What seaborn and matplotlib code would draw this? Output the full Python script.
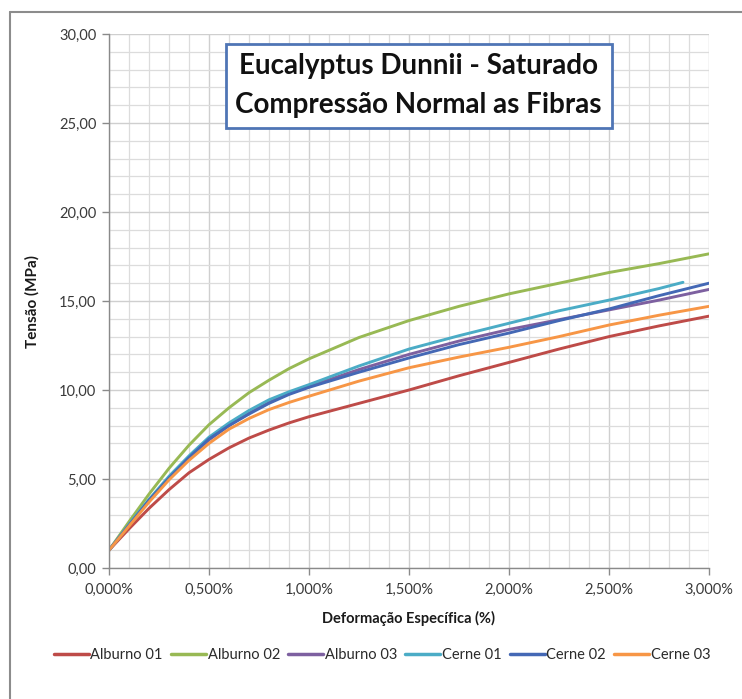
import matplotlib
matplotlib.use("Agg")
import matplotlib.pyplot as plt
from matplotlib.ticker import MultipleLocator, FuncFormatter
from matplotlib.lines import Line2D
import pandas as pd
import seaborn as sns

# Strain (%) sampling points
strain = [0.0, 0.1, 0.2, 0.3, 0.4, 0.5, 0.6, 0.7, 0.8, 0.9, 1.0,
          1.25, 1.5, 1.75, 2.0, 2.25, 2.5, 2.75, 3.0]
strain_cerne01 = [0.0, 0.1, 0.2, 0.3, 0.4, 0.5, 0.6, 0.7, 0.8, 0.9, 1.0,
                  1.25, 1.5, 1.75, 2.0, 2.25, 2.5, 2.75, 2.87]

# Stress (MPa) for each specimen
alburno01 = [1.0, 2.2, 3.35, 4.4, 5.35, 6.1, 6.75, 7.3, 7.75, 8.15, 8.5,
             9.25, 10.0, 10.8, 11.55, 12.3, 13.0, 13.6, 14.15]
alburno02 = [1.0, 2.6, 4.15, 5.6, 6.9, 8.05, 9.0, 9.85, 10.55, 11.2, 11.75,
             12.95, 13.9, 14.7, 15.4, 16.0, 16.6, 17.1, 17.65]
alburno03 = [1.0, 2.4, 3.8, 5.05, 6.2, 7.2, 8.0, 8.7, 9.3, 9.8, 10.2,
             11.15, 12.0, 12.75, 13.4, 13.95, 14.5, 15.05, 15.65]
cerne01 = [1.0, 2.45, 3.85, 5.15, 6.3, 7.35, 8.15, 8.85, 9.45, 9.9, 10.3,
           11.35, 12.3, 13.05, 13.75, 14.45, 15.05, 15.7, 16.05]
cerne02 = [1.0, 2.4, 3.8, 5.05, 6.2, 7.25, 8.0, 8.65, 9.25, 9.75, 10.15,
           11.0, 11.8, 12.55, 13.2, 13.9, 14.55, 15.3, 16.0]
cerne03 = [1.0, 2.35, 3.7, 4.95, 6.05, 7.0, 7.8, 8.4, 8.9, 9.3, 9.65,
           10.5, 11.25, 11.85, 12.4, 13.0, 13.65, 14.2, 14.7]

series_names = ["Alburno 01", "Alburno 02", "Alburno 03",
                "Cerne 01", "Cerne 02", "Cerne 03"]
series_colors = ["#BE4B48", "#98B954", "#7D60A0", "#4BACC6", "#4468B5", "#F79646"]

frames = []
for name, xs, ys in zip(series_names,
                        [strain, strain, strain, strain_cerne01, strain, strain],
                        [alburno01, alburno02, alburno03, cerne01, cerne02, cerne03]):
    frames.append(pd.DataFrame({"Deformação": xs, "Tensão": ys, "Amostra": name}))
df = pd.concat(frames, ignore_index=True)

sns.set_theme(style="white")
plt.rcParams["font.family"] = ["Lato", "DejaVu Sans"]

fig = plt.figure(figsize=(7.42, 6.99), dpi=100)
ax = fig.add_axes([109 / 742, 1 - 568 / 699, 600 / 742, 534 / 699])

# Excel-style grid: minor every 0.1 % / 1 MPa, major every 0.5 % / 5 MPa
ax.xaxis.set_major_locator(MultipleLocator(0.5))
ax.xaxis.set_minor_locator(MultipleLocator(0.1))
ax.yaxis.set_major_locator(MultipleLocator(5))
ax.yaxis.set_minor_locator(MultipleLocator(1))
ax.grid(which="major", color="#cfcfcf", linewidth=1.0)
ax.grid(which="minor", color="#dcdcdc", linewidth=0.9)
ax.set_axisbelow(True)

sns.lineplot(data=df, x="Deformação", y="Tensão", hue="Amostra",
             hue_order=series_names, palette=series_colors, sort=False,
             linewidth=2.1, ax=ax, legend=False)

ax.set_xlim(0, 3.0)
ax.set_ylim(0, 30)
ax.xaxis.set_major_formatter(FuncFormatter(lambda v, p: f"{v:.3f}%".replace(".", ",")))
ax.yaxis.set_major_formatter(FuncFormatter(lambda v, p: f"{v:.2f}".replace(".", ",")))
ax.tick_params(axis="both", which="major", labelsize=10.5, labelcolor="#3a3a3a",
               length=5, width=1, color="#8a8a8a", direction="out",
               bottom=True, left=True)
ax.tick_params(axis="x", pad=6)
ax.tick_params(axis="y", pad=4)

for side in ("top", "right"):
    ax.spines[side].set_visible(False)
for side in ("left", "bottom"):
    ax.spines[side].set_color("#8a8a8a")
    ax.spines[side].set_linewidth(1.0)

ax.set_xlabel("Deformação Específica (%)", fontsize=10.5, fontweight="bold",
              color="#1a1a1a", labelpad=10)
ax.set_ylabel("Tensão (MPa)", fontsize=11, fontweight="bold",
              color="#1a1a1a", labelpad=14)

# Title in a framed box inside the plot area
ax.text(0.516, 0.9035, "Eucalyptus Dunnii - Saturado\nCompressão Normal as Fibras",
        transform=ax.transAxes, ha="center", va="center", fontsize=20,
        fontweight="bold", color="#111111", linespacing=1.6,
        bbox=dict(boxstyle="square,pad=0.35", facecolor="white",
                  edgecolor="#4F75B5", linewidth=2))

# Legend along the bottom
handles = [Line2D([0], [0], color=c, linewidth=2.5) for c in series_colors]
fig.legend(handles, series_names, loc="center", ncol=6,
           bbox_to_anchor=(382 / 742, 1 - 655 / 699), frameon=False,
           fontsize=10.5, handlelength=2.4, handletextpad=0.12,
           columnspacing=0.55, labelcolor="#2a2a2a")

# Chart frame (top and left edges)
fig.add_artist(Line2D([10 / 742, 1.0], [1 - 12 / 699, 1 - 12 / 699],
                      transform=fig.transFigure, color="#8c8c8c", linewidth=1.5))
fig.add_artist(Line2D([10 / 742, 10 / 742], [0.0, 1 - 12 / 699],
                      transform=fig.transFigure, color="#8c8c8c", linewidth=1.5))

fig.savefig("out.png", dpi=100, facecolor="white")
